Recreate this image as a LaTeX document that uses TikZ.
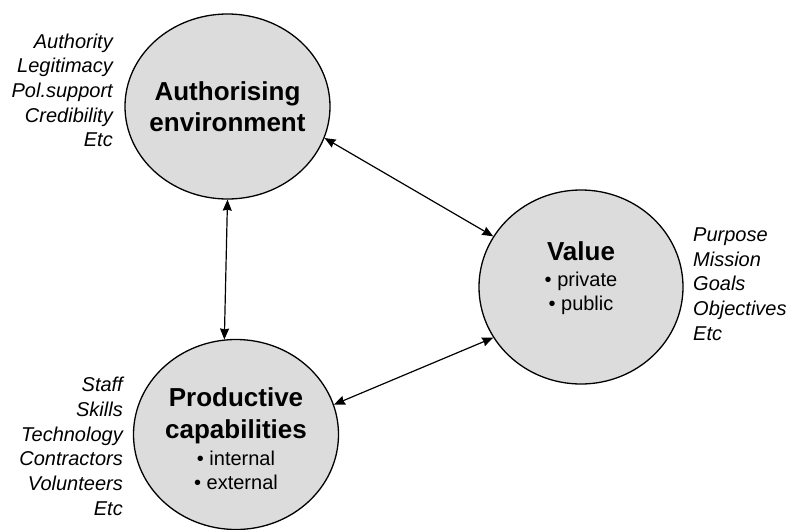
\documentclass[tikz,border=0pt]{standalone}
\usepackage{fontspec}
\setmainfont{Liberation Sans}
\usetikzlibrary{shapes.geometric,arrows.meta}
\definecolor{circfill}{HTML}{DCDCDC}
\tikzset{
 circ/.style={ellipse, draw=black, line width=1.3pt, fill=circfill, inner sep=0pt},
 title/.style={font=\fontsize{26}{30}\selectfont\bfseries, inner sep=0pt, anchor=base},
 bullet/.style={font=\fontsize{20}{24}\selectfont, inner sep=0pt, anchor=base},
 side/.style={font=\fontsize{20}{24}\selectfont\itshape, inner sep=0pt},
 link/.style={{Stealth[length=11pt,width=9pt,inset=1pt]}-{Stealth[length=11pt,width=9pt,inset=1pt]}, line width=1.2pt},
}
\begin{document}
\begin{tikzpicture}[x=1pt,y=-1pt]
\useasboundingbox (0,0) rectangle (790,530);
\node[circ, minimum width=205pt, minimum height=185pt] (auth) at (227.5,106.5) {};
\node[circ, minimum width=204pt, minimum height=194pt] (val) at (581,287) {};
\node[circ, minimum width=205pt, minimum height=190pt] (prod) at (236,434.5) {};

% texts inside circles
\node[title] (authA) at (227.5,100) {Authorising};
\node[title] (authB) at (227.5,131.7) {environment};

\node[title] (valA) at (581,260) {Value};
\node[bullet] (valB) at (581,286) {• private};
\node[bullet] (valC) at (581,310) {• public};

\node[title] (prodA) at (236,406.7) {Productive};
\node[title] (prodB) at (236,438.3) {capabilities};
\node[bullet] (prodC) at (236,465) {• internal};
\node[bullet] (prodD) at (236,489.3) {• external};

% side lists
\foreach \t [count=\i] in {Authority,Legitimacy,Pol.support,Credibility,Etc}
  \node[side, anchor=base east] (al\i) at (113,{48.3+24.6*(\i-1)}) {\t};
\foreach \t [count=\i] in {Staff,Skills,Technology,Contractors,Volunteers,Etc}
  \node[side, anchor=base east] (pl\i) at (123,{391.7+24.66*(\i-1)}) {\t};
\foreach \t [count=\i] in {Purpose,Mission,Goals,Objectives,Etc}
  \node[side, anchor=base west] (vl\i) at (693,{241.7+24.6*(\i-1)}) {\t};

% connectors
\draw[link] (auth.-18) -- (val.150);
\draw[link] (auth.-90) -- (prod.97);
\draw[link] (prod.17) -- (val.210);
\end{tikzpicture}
\end{document}
